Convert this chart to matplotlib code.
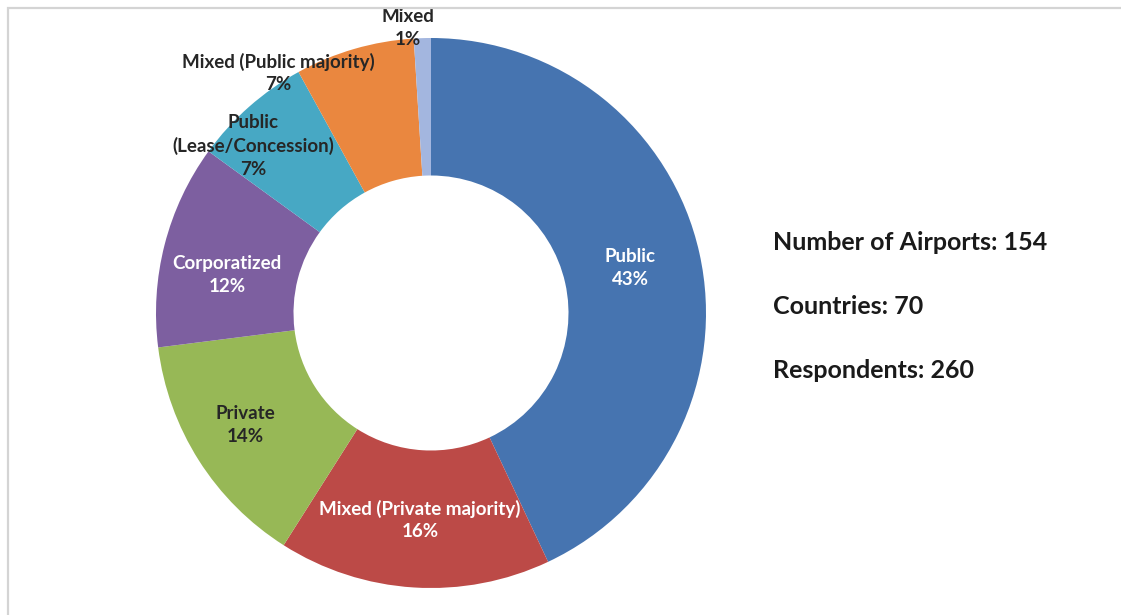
import matplotlib
matplotlib.use('Agg')
import matplotlib.pyplot as plt
from matplotlib.patches import Rectangle

# ownership shares (%), clockwise from 12 o'clock
labels = ['Public', 'Mixed (Private majority)', 'Private', 'Corporatized',
          'Public\n(Lease/Concession)', 'Mixed (Public majority)', 'Mixed']
shares = [43, 16, 14, 12, 7, 7, 1]
colors = ['#4674B0', '#BC4A47', '#97B856', '#7D5FA0', '#47A8C4', '#EA873F', '#A3B6DF']
text_colors = ['white', 'white', '#262626', 'white', '#262626', '#262626', '#262626']

stats = ['Number of Airports: 154', 'Countries: 70', 'Respondents: 260']

# label positions in data units (ring radius = 1)
label_pos = [(0.724, 0.164), (-0.04, -0.753), (-0.676, -0.407), (-0.742, 0.138),
             (-0.647, 0.607), (-0.556, 0.873), (-0.084, 1.036)]

plt.rcParams['font.family'] = ['Lato', 'DejaVu Sans']

W, H = 1121, 615
fig = plt.figure(figsize=(W / 100, H / 100), dpi=100)

# light frame like the pasted chart box
fig.add_artist(Rectangle((8 / W, -0.1), 1.2, (615 - 8) / H + 0.1,
                         transform=fig.transFigure, fill=False,
                         edgecolor='#d4d4d4', linewidth=1.6))

cx, cy, R = 431, 313, 275
ax = fig.add_axes([(cx - R) / W, (H - cy - R) / H, 2 * R / W, 2 * R / H])
ax.pie(shares, colors=colors, startangle=90, counterclock=False,
       radius=1.0, wedgeprops=dict(width=0.5, edgecolor='none'))
ax.set_xlim(-1, 1)
ax.set_ylim(-1, 1)
ax.set_aspect('equal')
ax.axis('off')

for lab, val, (x, y), tc in zip(labels, shares, label_pos, text_colors):
    ax.text(x, y, '%s\n%d%%' % (lab, val), ha='center', va='center',
            color=tc, fontsize=13.5, fontweight='bold', linespacing=1.4,
            clip_on=False)

for i, s in enumerate(stats):
    fig.text(773 / W, 1 - (242 + 64 * i) / H, s, ha='left', va='center',
             fontsize=18, fontweight='bold', color='#1a1a1a')

fig.savefig('out.png', dpi=100)
